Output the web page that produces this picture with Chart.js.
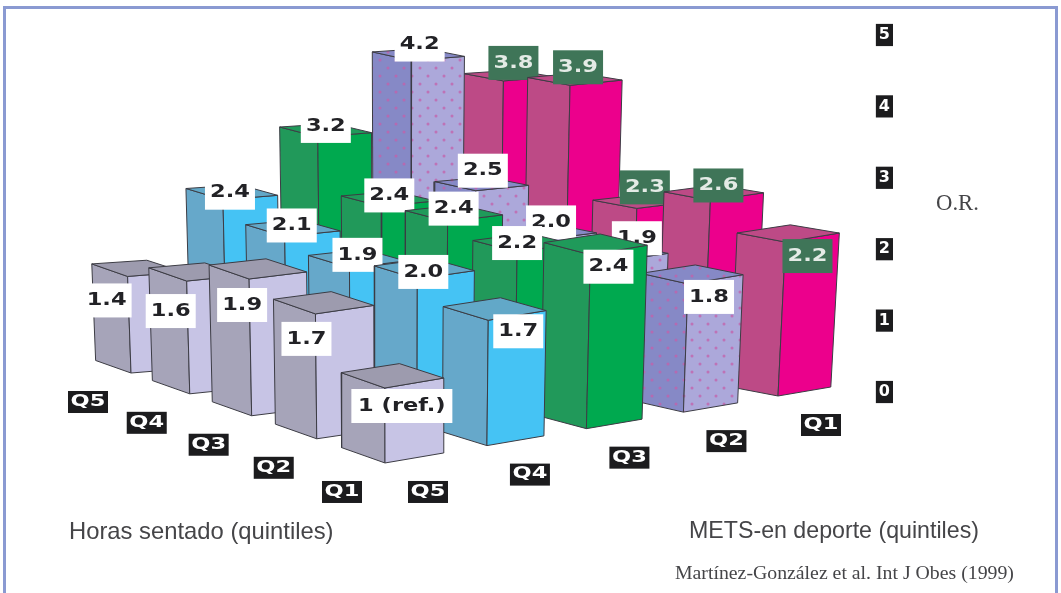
<!DOCTYPE html>
<html lang="es">
<head>
<meta charset="utf-8">
<title>O.R. por horas sentado y METS en deporte</title>
<script src="https://cdn.jsdelivr.net/npm/chart.js@4"></script>
<style>
    html, body { margin: 0; padding: 0; background: #fff; overflow: hidden; }
    #frame { position: absolute; left: 3px; top: 6px; width: 1049px; height: 600px; border: 3px solid #8a9ad2; }
    #chart { position: absolute; left: 0; top: 0; filter: blur(0.4px); }
</style>
</head>
<body>
<div id="frame"></div>
<canvas id="chart" width="1061" height="593"></canvas>
<script>
// Datos
const metsLabels = ['Q5', 'Q4', 'Q3', 'Q2', 'Q1'];
const horasLabels = ['Q5', 'Q4', 'Q3', 'Q2', 'Q1'];
const orTicks = [0, 1, 2, 3, 4, 5];

// una lista por quintil de METS, de horas Q5 a horas Q1
const metsQ5 = [1.4, 1.6, 1.9, 1.7, 1];
const metsQ4 = [2.4, 2.1, 1.9, 2.0, 1.7];
const metsQ3 = [3.2, 2.4, 2.4, 2.2, 2.4];
const metsQ2 = [4.2, 2.5, 2.0, 1.9, 1.8];
const metsQ1 = [3.8, 3.9, 2.3, 2.6, 2.2];
const series = [metsQ5, metsQ4, metsQ3, metsQ2, metsQ1];

// Proyeccion del suelo: esquinas en unidades de las escalas (x, O.R.)
const corners = {
    back: [131, 0.266],    // horas Q5, METS Q5
    right: [500, 0.686],   // horas Q5, METS Q1
    near: [778, -0.056],   // horas Q1, METS Q1
    front: [385, -0.994]   // horas Q1, METS Q5
};
const BAR_W = 0.57;
const BAR_D = 0.63;
const LEAN = 0.009;
const LEAN_CENTER = 400;

function ground(u, v) {
    const s0 = u / 4, t0 = v / 4;
    // un poco de perspectiva en las dos direcciones
    const s = s0 + 0.05 * s0 * (1 - s0);
    const t = t0 - 0.1 * t0 * (1 - t0);
    const mix = i => (1 - t) * ((1 - s) * corners.back[i] + s * corners.right[i]) +
        t * ((1 - s) * corners.front[i] + s * corners.near[i]);
    return { x: mix(0), y: mix(1) };
}

// sube un punto del suelo hasta el valor O.R.
function raise(p, value, u, v) {
    const s = u / 4, t = v / 4;
    return {
        x: p.x + (p.x - LEAN_CENTER) * value * LEAN,
        y: p.y + value * (0.966 + 0.084 * t - 0.07 * s * t)
    };
}

// Patron de puntos de la serie Q2
function dotted(base) {
    const c = document.createElement('canvas');
    c.width = 16;
    c.height = 16;
    const g = c.getContext('2d');
    g.fillStyle = base;
    g.fillRect(0, 0, 16, 16);
    g.fillStyle = 'rgba(196, 96, 170, 0.75)';
    [[4, 4], [12, 12]].forEach(([x, y]) => {
        g.beginPath();
        g.arc(x, y, 1.5, 0, Math.PI * 2);
        g.fill();
    });
    return c.getContext('2d').createPattern(c, 'repeat');
}

const faceColors = [
    { left: '#a6a4b9', right: '#c7c4e5', top: '#9d9bae' },
    { left: '#66a8ca', right: '#45c3f4', top: '#62a8c8' },
    { left: '#21995a', right: '#00a94f', top: '#1f9a5a' },
    { left: dotted('#8689c6'), right: dotted('#aca8da'), top: dotted('#8689c6') },
    { left: '#bd4a86', right: '#ec008c', top: '#bd4a86' }
];

// Desplazamiento de cada etiqueta respecto a la arista frontal, en pixeles
const labelNudge = [
    [[-21, 24], [-16, 30], [-7, 26], [-9, 25], [17, 18]],
    [[7, -7], [7, -11], [8, -13], [6, -7], [30, 11]],
    [[8, -11], [8, -11], [6, -13], [0, -9], [18, 12]],
    [[8, -16], [7, -20], [8, -17], [23, -23], [21, 13]],
    [[10, -18], [8, -18], [8, -21], [8, -15], [22, 14]]
];

function face(points, color) {
    return {
        data: points.concat([points[0]]),
        showLine: true,
        fill: 'shape',
        backgroundColor: color,
        borderColor: '#3c3c44',
        borderWidth: 1,
        borderJoinStyle: 'round',
        pointRadius: 0,
        clip: false
    };
}

// Se construyen de atras hacia delante
const datasets = [];
for (let u = 4; u >= 0; u--) {
    for (let v = 0; v < 5; v++) {
        const value = series[u][v];
        const f = ground(u, v);
        const r = ground(u + BAR_W, v);
        const l = ground(u, v - BAR_D);
        const b = ground(u + BAR_W, v - BAR_D);
        const ft = raise(f, value, u, v), rt = raise(r, value, u, v);
        const lt = raise(l, value, u, v), bt = raise(b, value, u, v);
        const colors = faceColors[u];
        datasets.push(face([l, f, ft, lt], colors.left));
        datasets.push(face([f, r, rt, ft], colors.right));
        const top = face([lt, ft, rt, bt], colors.top);
        top.valueLabel = {
            text: value === 1 ? '1 (ref.)' : value.toFixed(1),
            at: ft,
            nudge: labelNudge[u][v],
            dark: u === 4
        };
        datasets.push(top);
    }
}
// Chart.js pinta primero el ultimo dataset
datasets.reverse();

function wideText(ctx, text, x, y, font, stretch, color) {
    ctx.save();
    ctx.translate(x, y);
    ctx.scale(stretch, 1);
    ctx.font = font;
    ctx.fillStyle = color;
    ctx.textAlign = 'center';
    ctx.textBaseline = 'middle';
    ctx.fillText(text, 0, 0);
    ctx.restore();
}

const valueLabels = {
    id: 'valueLabels',
    afterDatasetDraw(chart, args) {
        const label = chart.data.datasets[args.index].valueLabel;
        if (!label) return;
        const ctx = chart.ctx;
        const x = chart.scales.x.getPixelForValue(label.at.x) + label.nudge[0];
        const y = chart.scales.y.getPixelForValue(label.at.y) + label.nudge[1];
        const w = label.text.length > 3 ? 101 : 50;
        ctx.save();
        ctx.fillStyle = label.dark ? '#3f7558' : '#ffffff';
        ctx.fillRect(x - w / 2, y - 17, w, 34);
        ctx.restore();
        wideText(ctx, label.text, x, y, 'bold 18px "DejaVu Sans"', 1.25, label.dark ? '#e4ebe6' : '#222226');
    }
};

const axisLabels = {
    id: 'axisLabels',
    afterDraw(chart) {
        const ctx = chart.ctx;
        const sx = chart.scales.x, sy = chart.scales.y;
        const tag = (text, p, dx, dy) => {
            const x = sx.getPixelForValue(p.x) + dx;
            const y = sy.getPixelForValue(p.y) + dy;
            ctx.fillStyle = '#1c1c1e';
            ctx.fillRect(x - 20, y - 11, 40, 22);
            wideText(ctx, text, x, y, 'bold 15px "DejaVu Sans"', 1.5, '#ffffff');
        };
        horasLabels.forEach((q, v) => tag(q, ground(0, v), -43, 29));
        metsLabels.forEach((q, u) => tag(q, ground(u, 4), 43, 29));

        ctx.textBaseline = 'middle';
        ctx.textAlign = 'left';
        ctx.fillStyle = '#454548';
        ctx.font = '23.8px "Liberation Sans"';
        ctx.fillText('Horas sentado (quintiles)', 69, 532);
        ctx.font = '23.2px "Liberation Sans"';
        ctx.fillText('METS-en deporte (quintiles)', 689, 532);
        ctx.font = '19.8px "Liberation Serif"';
        ctx.fillText('Martínez-González et al. Int J Obes (1999)', 675, 574);
        ctx.font = '22.7px "Liberation Serif"';
        ctx.fillText('O.R.', 936, 204);
    }
};

new Chart(document.getElementById('chart'), {
    type: 'scatter',
    data: { datasets: datasets },
    plugins: [valueLabels, axisLabels],
    options: {
        responsive: false,
        animation: false,
        events: [],
        layout: { autoPadding: false, padding: 0 },
        plugins: { legend: { display: false }, tooltip: { enabled: false }, title: { display: false } },
        scales: {
            x: { type: 'linear', min: 0, max: 1061, display: false },
            y: {
                type: 'linear',
                min: -2.815,
                max: 5.49,
                position: { x: 890 },
                grid: { display: false, drawTicks: false },
                border: { display: false },
                afterBuildTicks: axis => { axis.ticks = orTicks.map(value => ({ value })); },
                // sin margen extra: la escala ocupa todo el alto del canvas
                afterFit: axis => { axis.paddingTop = 0; axis.paddingBottom = 0; },
                ticks: {
                    autoSkip: false,
                    color: '#ffffff',
                    font: { family: '"DejaVu Sans"', size: 16, weight: 'bold' },
                    padding: 0,
                    showLabelBackdrop: true,
                    backdropColor: '#1c1c1e',
                    backdropPadding: { x: 3, y: 1.5 }
                }
            }
        }
    }
});
</script>
</body>
</html>
